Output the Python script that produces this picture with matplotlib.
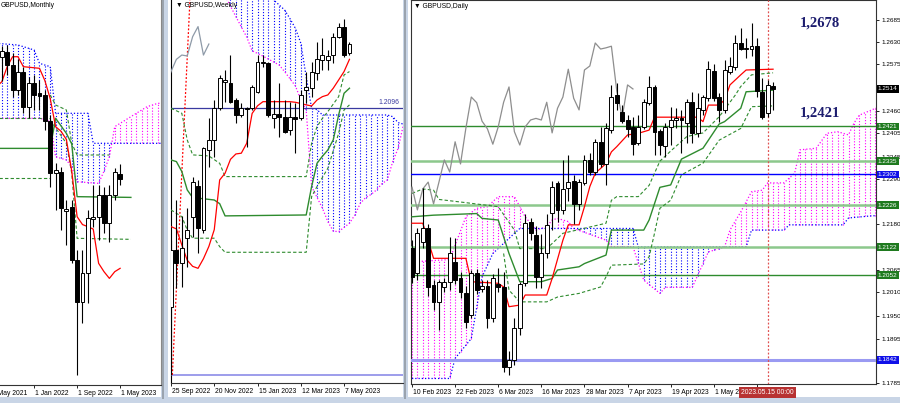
import numpy as np
import matplotlib
matplotlib.use('Agg')
import matplotlib.pyplot as plt
from matplotlib.patches import Rectangle
import matplotlib.transforms as mtransforms

plt.rcParams['font.family'] = ['Liberation Sans', 'DejaVu Sans']

# ======================= DATA =======================
# ---- Monthly (bar = months from Jan 2022) ----
m_bars = list(range(-6, 17))
m_open = [1.3865, 1.3919, 1.3771, 1.3495, 1.3698, 1.3311, 1.3569, 1.3459, 1.3440, 1.3157, 1.2583, 1.2594,
          1.2165, 1.2207, 1.1619, 1.1159, 1.1471, 1.2068, 1.2097, 1.2336, 1.2031, 1.2336, 1.2570]
m_high = [1.3985, 1.3992, 1.3900, 1.3835, 1.3753, 1.3643, 1.3661, 1.3606, 1.3495, 1.3219, 1.2686, 1.2649,
          1.2281, 1.2281, 1.1729, 1.1729, 1.2171, 1.2445, 1.2450, 1.2428, 1.2447, 1.2630, 1.2678]
m_low = [1.3600, 1.3661, 1.3422, 1.3435, 1.3238, 1.3183, 1.3275, 1.3275, 1.3054, 1.2428, 1.2170, 1.1950,
         1.1780, 1.1582, 1.0349, 1.0919, 1.1145, 1.1987, 1.1839, 1.1913, 1.1821, 1.2281, 1.2444]
m_close = [1.3930, 1.3771, 1.3495, 1.3698, 1.3311, 1.3569, 1.3440, 1.3433, 1.3157, 1.2583, 1.2612, 1.2189,
           1.2180, 1.1619, 1.1159, 1.1471, 1.2079, 1.2097, 1.2336, 1.2023, 1.2336, 1.2594, 1.2514]
m_tenkan_x = [-7, -6, -5, -4, -3, -2, 1, 2, 3, 4, 5, 6, 7, 8, 9, 10, 11, 12, 13, 14, 15, 16]
m_tenkan_y = [1.3530, 1.3587, 1.3753, 1.3863, 1.3863, 1.3753, 1.3735, 1.3600, 1.3400, 1.3091, 1.3040, 1.2950,
              1.2600, 1.2097, 1.2010, 1.1987, 1.1960, 1.1582, 1.1490, 1.1416, 1.1490, 1.1527]
m_kijun_x = [-7, 3, 4, 6, 7, 8, 18]
m_kijun_y = [1.2851, 1.2851, 1.3183, 1.3017, 1.2900, 1.2318, 1.2310]
m_dash1_x = [-7, 3]
m_dash1_y = [1.3183, 1.3183]
m_dash2_x = [-7, 3]
m_dash2_y = [1.2520, 1.2520]
m_dash3_x = [3, 4, 6, 7, 8, 14]
m_dash3_y = [1.3440, 1.3330, 1.3275, 1.2907, 1.2778, 1.2778]
m_dash4_x = [3, 6, 7, 8, 18]
m_dash4_y = [1.3164, 1.2907, 1.2575, 1.1858, 1.1847]
m_spanA_x = [-7, 1, 2, 3, 4, 6, 7, 8, 12, 13, 14, 15, 17, 19, 21, 23, 24]
m_spanA_y = [1.3183, 1.3183, 1.3170, 1.3146, 1.2759, 1.2723, 1.2649, 1.2483, 1.2465, 1.2600, 1.2759, 1.3091,
             1.3164, 1.3238, 1.3311, 1.3348, 1.3350]
m_spanB_x = [-7, -3, 0, 1, 2, 3, 4, 10, 11, 24]
m_spanB_y = [1.4011, 1.3992, 1.3937, 1.3790, 1.3771, 1.3753, 1.3238, 1.3238, 1.2907, 1.2907]
m_ticks = [-8, 0, 8, 16]
m_ticklabels = ['1 May 2021', '1 Jan 2022', '1 Sep 2022', '1 May 2023']

# ---- Weekly (bar = weeks from 25 Sep 2022) ----
w_open = [1.0797, 1.1167, 1.1080, 1.1243, 1.1385, 1.1586, 1.1298, 1.1821, 1.1887, 1.2094, 1.2268, 1.2262,
          1.2148, 1.2050, 1.2096, 1.2094, 1.2203, 1.2388, 1.2388, 1.2028, 1.2054, 1.2035, 1.1952, 1.2035,
          1.2028, 1.2214, 1.2225, 1.2327, 1.2410, 1.2410, 1.2442, 1.2562, 1.2628, 1.2453]
w_high = [1.1235, 1.1494, 1.1390, 1.1440, 1.1647, 1.1625, 1.1843, 1.2028, 1.2148, 1.2312, 1.2344, 1.2442,
          1.2159, 1.2126, 1.2105, 1.2246, 1.2442, 1.2442, 1.2399, 1.2148, 1.2257, 1.2148, 1.2137, 1.2126,
          1.2214, 1.2334, 1.2399, 1.2530, 1.2551, 1.2475, 1.2584, 1.2650, 1.2678, 1.2530]
w_low = [1.0350, 1.0917, 1.0925, 1.1058, 1.1255, 1.1145, 1.1276, 1.1712, 1.1778, 1.2083, 1.2137, 1.2127,
         1.1996, 1.2039, 1.1843, 1.2083, 1.2192, 1.2366, 1.2039, 1.1963, 1.1908, 1.1930, 1.1919, 1.1799,
         1.2017, 1.2126, 1.2170, 1.2279, 1.2344, 1.2344, 1.2388, 1.2551, 1.2431, 1.2442]
w_close = [1.1167, 1.1080, 1.1178, 1.1298, 1.1614, 1.1309, 1.1832, 1.1887, 1.2094, 1.2290, 1.2279, 1.2137,
           1.2050, 1.2094, 1.2092, 1.2231, 1.2399, 1.2399, 1.2050, 1.2054, 1.2039, 1.1941, 1.2039, 1.2026,
           1.2181, 1.2231, 1.2334, 1.2414, 1.2442, 1.2436, 1.2562, 1.2628, 1.2442, 1.2514]
w_tenkan_x = [0, 1, 2, 3, 4, 5, 6, 7, 8, 9, 10, 11, 12, 13, 14, 15, 16, 17, 22, 23, 24, 25, 26, 27, 28, 29,
              30, 31, 32, 33]
w_tenkan_y = [1.1320, 1.1305, 1.1200, 1.1100, 1.1060, 1.1047, 1.1110, 1.1190, 1.1300, 1.1625, 1.1669,
              1.1760, 1.1795, 1.1800, 1.1865, 1.2060, 1.2110, 1.2137, 1.2137, 1.2133, 1.2125, 1.2116,
              1.2109, 1.2148, 1.2170, 1.2181, 1.2225, 1.2279, 1.2334, 1.2414]
w_kijun_x = [0, 1, 2, 3, 4, 8, 9, 10, 25, 26, 27, 28, 29, 30, 31, 32, 33]
w_kijun_y = [1.1756, 1.1745, 1.1680, 1.1560, 1.1510, 1.1494, 1.1470, 1.1390, 1.1396, 1.1582, 1.1734,
             1.1780, 1.1821, 1.1887, 1.2050, 1.2192, 1.2225]
w_dash1_x = [0, 2, 3, 4, 7, 9, 10, 25, 26, 27, 28, 29, 31, 32, 33]
w_dash1_y = [1.2094, 1.2061, 1.1887, 1.1789, 1.1782, 1.1734, 1.1647, 1.1647, 1.1865, 1.1974, 1.2028,
             1.2072, 1.2170, 1.2312, 1.2334]
w_dash2_x = [0, 2, 3, 4, 8, 9, 10, 25, 26, 27, 29, 31, 32, 33]
w_dash2_y = [1.1429, 1.1385, 1.1298, 1.1244, 1.1244, 1.1189, 1.1152, 1.1152, 1.1516, 1.1582, 1.1701,
             1.1930, 1.2083, 1.2116]
w_spanA_x = [9, 10, 12, 14, 15, 17, 20, 21, 23, 24, 25, 26, 28, 29, 30, 31, 33, 34, 35, 36, 37, 38, 39,
             40, 41, 42, 43]
w_spanA_y = [1.2900, 1.2830, 1.2693, 1.2560, 1.2470, 1.2435, 1.2377, 1.2334, 1.2240, 1.2150, 1.2083,
             1.1582, 1.1440, 1.1353, 1.1290, 1.1287, 1.1342, 1.1396, 1.1472, 1.1510, 1.1530, 1.1560,
             1.1600, 1.1625, 1.1745, 1.1832, 1.1990]
w_spanB_x = [9, 19, 21, 22, 23, 24, 25, 26, 27, 28, 40, 41, 42, 43]
w_spanB_y = [1.3100, 1.2802, 1.2737, 1.2680, 1.2617, 1.2520, 1.2300, 1.2094, 1.2085, 1.2050, 1.2050,
             1.2039, 1.2000, 1.1990]
w_trend_x = [0.25, 3.5]
w_trend_y = [1.0350, 1.2802]
w_level = 1.2096
w_low_level = 1.0350
w_ticks = [0, 8, 16, 24, 32]
w_ticklabels = ['25 Sep 2022', '20 Nov 2022', '15 Jan 2023', '12 Mar 2023', '7 May 2023']

# ---- Daily (bar = trading days from 10 Feb 2023) ----
d_open = [1.2119, 1.2058, 1.2134, 1.2169, 1.2028, 1.1986, 1.2023, 1.2035, 1.2085, 1.2045, 1.2008, 1.1953,
          1.2058, 1.2018, 1.2025, 1.1946, 1.2030, 1.2023, 1.1824, 1.1842, 1.1921, 1.2033, 1.2183, 1.2152,
          1.2047, 1.2107, 1.2206, 1.2281, 1.2214, 1.2268, 1.2285, 1.2229, 1.2281, 1.2338, 1.2308, 1.2383,
          1.2328, 1.2412, 1.2499, 1.2457, 1.2437, 1.2420, 1.2380, 1.2420, 1.2479, 1.2518, 1.2410, 1.2373,
          1.2420, 1.2438, 1.2441, 1.2430, 1.2481, 1.2405, 1.2462, 1.2491, 1.2558, 1.2494, 1.2462, 1.2556,
          1.2569, 1.2628, 1.2614, 1.2613, 1.2620, 1.2506, 1.2454, 1.2521]
d_high = [1.2139, 1.2170, 1.2268, 1.2180, 1.2040, 1.2040, 1.2045, 1.2147, 1.2145, 1.2060, 1.2025, 1.2065,
          1.2068, 1.2040, 1.2040, 1.2055, 1.2070, 1.2060, 1.1865, 1.1945, 1.2035, 1.2203, 1.2195, 1.2175,
          1.2155, 1.2205, 1.2285, 1.2285, 1.2338, 1.2350, 1.2300, 1.2290, 1.2350, 1.2355, 1.2390, 1.2420,
          1.2430, 1.2525, 1.2528, 1.2475, 1.2450, 1.2445, 1.2450, 1.2490, 1.2546, 1.2525, 1.2415, 1.2430,
          1.2470, 1.2468, 1.2462, 1.2490, 1.2507, 1.2505, 1.2500, 1.2583, 1.2575, 1.2505, 1.2586, 1.2593,
          1.2648, 1.2665, 1.2640, 1.2678, 1.2640, 1.2540, 1.2535, 1.2531]
d_low = [1.2032, 1.2040, 1.2120, 1.2000, 1.1965, 1.1916, 1.2010, 1.2015, 1.2030, 1.1995, 1.1920, 1.1945,
         1.2005, 1.2010, 1.1920, 1.1937, 1.2010, 1.1812, 1.1805, 1.1830, 1.1905, 1.2025, 1.2140, 1.2020,
         1.2020, 1.2095, 1.2165, 1.2185, 1.2205, 1.2235, 1.2180, 1.2215, 1.2275, 1.2300, 1.2300, 1.2320,
         1.2276, 1.2405, 1.2462, 1.2430, 1.2395, 1.2350, 1.2375, 1.2415, 1.2474, 1.2350, 1.2350, 1.2345,
         1.2375, 1.2418, 1.2355, 1.2380, 1.2380, 1.2395, 1.2450, 1.2485, 1.2485, 1.2432, 1.2455, 1.2550,
         1.2560, 1.2610, 1.2590, 1.2595, 1.2495, 1.2440, 1.2445, 1.2462]
d_close = [1.2047, 1.2157, 1.2169, 1.2023, 1.1986, 1.2035, 1.2035, 1.2107, 1.2040, 1.2011, 1.1936, 1.2058,
           1.2015, 1.2025, 1.1946, 1.2045, 1.2023, 1.1824, 1.1842, 1.1921, 1.2030, 1.2181, 1.2157, 1.2047,
           1.2107, 1.2177, 1.2271, 1.2214, 1.2266, 1.2283, 1.2229, 1.2283, 1.2338, 1.2308, 1.2383, 1.2328,
           1.2417, 1.2494, 1.2480, 1.2434, 1.2415, 1.2377, 1.2420, 1.2481, 1.2519, 1.2408, 1.2375, 1.2420,
           1.2437, 1.2441, 1.2437, 1.2481, 1.2405, 1.2466, 1.2494, 1.2563, 1.2491, 1.2462, 1.2561, 1.2571,
           1.2628, 1.2613, 1.2616, 1.2620, 1.2509, 1.2444, 1.2524, 1.2514]
d_tenkan_x = [0, 2, 4, 10, 11, 16, 17, 18, 20, 21, 25, 26, 28, 29, 31, 32, 33, 34, 36, 37, 38, 40, 42, 44,
              45, 53, 54, 55, 57, 58, 59, 61, 62, 67]
d_tenkan_y = [1.2181, 1.2181, 1.2094, 1.2094, 1.2036, 1.2032, 1.2023, 1.1974, 1.1978, 1.2003, 1.2003,
              1.2044, 1.2139, 1.2177, 1.2177, 1.2222, 1.2272, 1.2305, 1.2329, 1.2358, 1.2371, 1.2400,
              1.2404, 1.2412, 1.2444, 1.2444, 1.2433, 1.2474, 1.2474, 1.2487, 1.2524, 1.2549, 1.2561, 1.2563]
d_kijun_x = [0, 4, 12, 13, 16, 18, 20, 24, 26, 27, 31, 32, 36, 37, 43, 44, 46, 48, 50, 54, 57, 58, 61, 62, 67]
d_kijun_y = [1.2197, 1.2201, 1.2205, 1.2193, 1.2189, 1.2106, 1.2036, 1.2036, 1.2044, 1.2065, 1.2073,
             1.2081, 1.2102, 1.2164, 1.2164, 1.2189, 1.2270, 1.2276, 1.2340, 1.2367, 1.2427, 1.2433,
             1.2466, 1.2507, 1.2511]
d_dash1_x = [0, 2, 4, 5, 10, 16, 19, 20, 25, 28, 36, 37, 38, 42, 44, 46, 48, 51, 54, 57, 60, 61, 63, 67]
d_dash1_y = [1.2255, 1.2266, 1.2263, 1.2240, 1.2232, 1.2222, 1.2164, 1.2118, 1.2118, 1.2156, 1.2181,
             1.2238, 1.2247, 1.2247, 1.2275, 1.2335, 1.2360, 1.2396, 1.2405, 1.2445, 1.2499, 1.2520,
             1.2549, 1.2554]
d_dash2_x = [17, 18, 20, 25, 27, 31, 35, 36, 37, 43, 44, 45, 46, 48, 50, 54, 57, 61, 63, 67]
d_dash2_y = [1.2106, 1.2015, 1.1986, 1.1986, 1.1998, 1.2007, 1.2023, 1.2048, 1.2077, 1.2080, 1.2098,
             1.2156, 1.2218, 1.2238, 1.2301, 1.2330, 1.2387, 1.2416, 1.2470, 1.2472]
d_spanA_x = [0, 7, 10, 12, 14, 16, 19, 20, 21, 23, 25, 26, 27, 29, 30, 36, 37, 41, 43, 46, 47, 52, 55, 58,
             59, 61, 63, 65, 66, 69, 71, 72, 75, 77, 79, 81, 82, 83, 86, 93]
d_spanA_y = [1.2085, 1.2091, 1.2197, 1.2218, 1.2222, 1.2247, 1.2247, 1.2222, 1.2197, 1.2164, 1.2172,
             1.2189, 1.2193, 1.2185, 1.2168, 1.2139, 1.2123, 1.2123, 1.2040, 1.2007, 1.2022, 1.2022,
             1.2110, 1.2122, 1.2164, 1.2209, 1.2259, 1.2263, 1.2281, 1.2281, 1.2305, 1.2363, 1.2367,
             1.2404, 1.2408, 1.2400, 1.2429, 1.2449, 1.2466, 1.2480]
d_spanB_x = [0, 7, 8, 11, 13, 15, 19, 20, 41, 42, 62, 63, 69, 70, 80, 81, 85, 93]
d_spanB_y = [1.1796, 1.1796, 1.1846, 1.1895, 1.2048, 1.2106, 1.2156, 1.2168, 1.2168, 1.2122, 1.2122,
             1.2164, 1.2164, 1.2177, 1.2177, 1.2194, 1.2199, 1.2205]
d_levels = [1.2421, 1.2335, 1.2302, 1.2226, 1.2122, 1.2052, 1.1842]
d_level_kind = ['g', 'lg', 'b', 'lg', 'lg', 'g', 'lb']
d_price = 1.2514
d_yticks = [1.2685, 1.2630, 1.2575, 1.2520, 1.2460, 1.2405, 1.2345, 1.2290, 1.2235, 1.2180, 1.2120,
            1.2065, 1.2010, 1.1950, 1.1895, 1.1840, 1.1785]
d_yticks_hidden = [1.2520, 1.2235, 1.2120, 1.1840]
d_ticks = [0, 8, 16, 24, 32, 40, 48, 56, 64]
d_ticklabels = ['10 Feb 2023', '22 Feb 2023', '6 Mar 2023', '16 Mar 2023', '28 Mar 2023', '7 Apr 2023',
                '19 Apr 2023', '1 May 2023', '']
d_vline_bar = 66
d_vline_label = '2023.05.15 00:00'
d_note_hi = '1,2678'
d_note_lo = '1,2421'

# ======================= STYLE / HELPERS =======================
W, H = 900, 403
MAG = '#FF00FF'
BLU = '#0000FF'
RED = '#FF0000'
GRN = '#2E8B2E'
LGRN = '#8CC88C'
DOT = (0, (1, 1.6))
DASH = (0, (3, 2))
FS = 4.9
FSY = 4.6

fig = plt.figure(figsize=(9, 4.03), dpi=100)
fig.patch.set_facecolor('#C9D5E6')


def frect(x0, y0, x1, y1):
    return [x0 / W, 1 - y1 / H, (x1 - x0) / W, (y1 - y0) / H]


def window(x0, y0, x1, y1):
    r = frect(x0, y0, x1, y1)
    fig.add_artist(Rectangle((r[0], r[1]), r[2], r[3], transform=fig.transFigure,
                             facecolor='white', edgecolor='none', zorder=0))


window(0, 0, 161, 397)
window(168, 0, 403, 397)
window(408, 0, 900, 397)
for xx in (162, 404):
    fig.add_artist(Rectangle((xx / W, 4 / H), 1.5 / W, 1, transform=fig.transFigure,
                             facecolor='#9AA3AE', edgecolor='none', zorder=0))


def candles(ax, xs, o, h, l, c, w=0.72):
    xs = np.asarray(xs, dtype=float)
    ax.vlines(xs, l, h, colors='black', lw=0.8, zorder=5)
    for x, oo, cc in zip(xs, o, c):
        lo, hi = min(oo, cc), max(oo, cc)
        ax.add_patch(Rectangle((x - w / 2, lo), w, max(hi - lo, 1e-6),
                               facecolor='white' if cc >= oo else 'black',
                               edgecolor='black', lw=0.7, zorder=6))


def cloud(ax, axs, ays, bxs, bys):
    k0 = int(max(min(axs), min(bxs)))
    k1 = int(min(max(axs), max(bxs)))
    ks = np.arange(k0, k1 + 1)
    a = np.interp(ks, axs, ays)
    b = np.interp(ks, bxs, bys)
    up = a >= b
    ax.vlines(ks[up], b[up], a[up], colors=MAG, linestyles=DOT, lw=0.8, zorder=2)
    ax.vlines(ks[~up], a[~up], b[~up], colors=BLU, linestyles=DOT, lw=0.8, zorder=2)
    ax.plot(axs, ays, color=MAG, ls=DOT, lw=0.9, zorder=2)
    ax.plot(bxs, bys, color=BLU, ls=DOT, lw=0.9, zorder=2)


def setup(ax, xlim, ylim, ticks, labels):
    ax.set_xlim(*xlim)
    ax.set_ylim(*ylim)
    ax.set_facecolor('white')
    ax.set_xticks([t for t in ticks if xlim[0] <= t <= xlim[1]])
    ax.set_xticklabels([])
    ax.tick_params(axis='x', length=2.5, width=0.6, colors='black')
    tr = mtransforms.blended_transform_factory(ax.transData, ax.transAxes)
    for t, lab in zip(ticks, labels):
        if lab:
            ax.text(t + 0.2, -0.012, lab, transform=tr, fontsize=FS, ha='left', va='top', clip_on=False)
    for s in ax.spines.values():
        s.set_linewidth(0.8)
        s.set_color('#333333')


# ======================= MONTHLY =======================
ax1 = fig.add_axes(frect(0, 0, 161, 385))
setup(ax1, (-6.34, 23.6), (1.0239, 1.4489), m_ticks, m_ticklabels)
ax1.set_yticks([])
ax1.spines['top'].set_visible(False)
ax1.spines['left'].set_visible(False)
ax1.spines['right'].set_color('#888888')
cloud(ax1, m_spanA_x, m_spanA_y, m_spanB_x, m_spanB_y)
ax1.plot(m_dash1_x, m_dash1_y, color=GRN, ls=DASH, lw=0.8, zorder=3)
ax1.plot(m_dash2_x, m_dash2_y, color=GRN, ls=DASH, lw=0.8, zorder=3)
ax1.plot(m_dash3_x, m_dash3_y, color=GRN, ls=DASH, lw=0.8, zorder=3)
ax1.plot(m_dash4_x, m_dash4_y, color=GRN, ls=DASH, lw=0.8, zorder=3)
ax1.plot(m_kijun_x, m_kijun_y, color=GRN, lw=1.0, zorder=3)
ax1.plot(m_tenkan_x, m_tenkan_y, color=RED, lw=0.9, zorder=3)
candles(ax1, m_bars, m_open, m_high, m_low, m_close)
ax1.text(0.005, 0.995, 'GBPUSD,Monthly', transform=ax1.transAxes, fontsize=FS, va='top', ha='left',
         zorder=10)

# ======================= WEEKLY =======================
ax2 = fig.add_axes(frect(171, 0, 403, 383))
setup(ax2, (0, 42.9), (1.0297, 1.2802), w_ticks, w_ticklabels)
ax2.set_yticks([])
ax2.spines['top'].set_visible(False)
ax2.spines['right'].set_visible(False)
ax2.spines['left'].set_color('black')
cloud(ax2, w_spanA_x, w_spanA_y, w_spanB_x, w_spanB_y)
ax2.axhline(w_level, color='#3A3AA0', lw=0.9, zorder=3)
ax2.axhline(w_low_level, color='#8C8CE8', lw=1.2, zorder=3)
ax2.text(0.985, w_level + 0.0012, f'{w_level:.4f}', transform=mtransforms.blended_transform_factory(
    ax2.transAxes, ax2.transData), fontsize=FS, color='#3A3AA0', ha='right', va='bottom', zorder=10)
ax2.plot(w_trend_x, w_trend_y, color=RED, ls=(0, (1.5, 1.5)), lw=0.9, zorder=3)
ax2.plot(w_dash1_x, w_dash1_y, color=GRN, ls=DASH, lw=0.8, zorder=3)
ax2.plot(w_dash2_x, w_dash2_y, color=GRN, ls=DASH, lw=0.8, zorder=3)
ax2.plot(w_kijun_x, w_kijun_y, color=GRN, lw=1.0, zorder=3)
ax2.plot(w_tenkan_x, w_tenkan_y, color=RED, lw=0.9, zorder=3)
ax2.plot(np.arange(len(w_close)) - 26, w_close, color='#8E9AA8', lw=0.9, zorder=3)
candles(ax2, range(len(w_open)), w_open, w_high, w_low, w_close)
ax2.text(0.02, 0.995, '▼ GBPUSD,Weekly', transform=ax2.transAxes, fontsize=FS, va='top', ha='left',
         zorder=10)

# ======================= DAILY =======================
ax3 = fig.add_axes(frect(411, 0, 876, 384))
setup(ax3, (-0.186, 86.1), (1.17823, 1.27346), d_ticks, d_ticklabels)
ax3.yaxis.tick_right()
ax3.set_yticks(d_yticks)
ax3.set_yticklabels(['' if v in d_yticks_hidden else f'{v:.4f}' for v in d_yticks], fontsize=FSY)
ax3.tick_params(axis='y', length=2.5, width=0.6, pad=1.5)
cloud(ax3, d_spanA_x, d_spanA_y, d_spanB_x, d_spanB_y)
style = {'g': (GRN, 1.0, '#1F7A1F'), 'lg': (LGRN, 1.8, '#1F7A1F'), 'b': (BLU, 1.0, '#1010E8'),
         'lb': ('#9A9AF2', 2.2, '#1010E8')}
tr3 = mtransforms.blended_transform_factory(ax3.transAxes, ax3.transData)
for lv, kind in zip(d_levels, d_level_kind):
    col, lw, box = style[kind]
    ax3.axhline(lv, color=col, lw=lw, zorder=3)
    ax3.text(1.004, lv, f'{lv:.4f}', transform=tr3, fontsize=FSY, color='white', ha='left', va='center',
             bbox=dict(boxstyle='square,pad=0.2', fc=box, ec='none'), clip_on=False, zorder=12)
ax3.text(1.004, d_price, f'{d_price:.4f}', transform=tr3, fontsize=FSY, color='white', ha='left',
         va='center', bbox=dict(boxstyle='square,pad=0.2', fc='black', ec='none'), clip_on=False,
         zorder=12)
ax3.axvline(d_vline_bar, color='#E05050', ls=(0, (1.5, 1.5)), lw=0.9, zorder=3)
ax3.plot(d_dash1_x, d_dash1_y, color=GRN, ls=DASH, lw=0.8, zorder=3)
ax3.plot(d_dash2_x, d_dash2_y, color=GRN, ls=DASH, lw=0.8, zorder=3)
ax3.plot(d_kijun_x, d_kijun_y, color=GRN, lw=1.0, zorder=3)
ax3.plot(d_tenkan_x, d_tenkan_y, color=RED, lw=0.9, zorder=3)
ax3.plot(np.arange(len(d_close)) - 26, d_close, color='#8E8E8E', lw=0.9, zorder=3)
candles(ax3, range(len(d_open)), d_open, d_high, d_low, d_close)
ax3.text(0.006, 0.993, '▼ GBPUSD,Daily', transform=ax3.transAxes, fontsize=FS, va='top', ha='left',
         zorder=10)
trx = mtransforms.blended_transform_factory(ax3.transData, ax3.transAxes)
ax3.text(d_vline_bar, -0.014, d_vline_label, transform=trx, fontsize=FS, color='white', ha='center',
         va='top', bbox=dict(boxstyle='square,pad=0.3', fc='#B83232', ec='none'), clip_on=False,
         zorder=12)
ax3.text(0.88, 1.2678, d_note_hi, transform=tr3, fontsize=10.5, fontweight='bold',
         family='Liberation Serif', color='#1C1C6E', ha='center', va='center', zorder=10)
ax3.text(0.88, 1.2421 + 0.0016, d_note_lo, transform=tr3, fontsize=10.5, fontweight='bold',
         family='Liberation Serif', color='#1C1C6E', ha='center', va='bottom', zorder=10)

fig.savefig('out.png', dpi=100, facecolor=fig.get_facecolor())
